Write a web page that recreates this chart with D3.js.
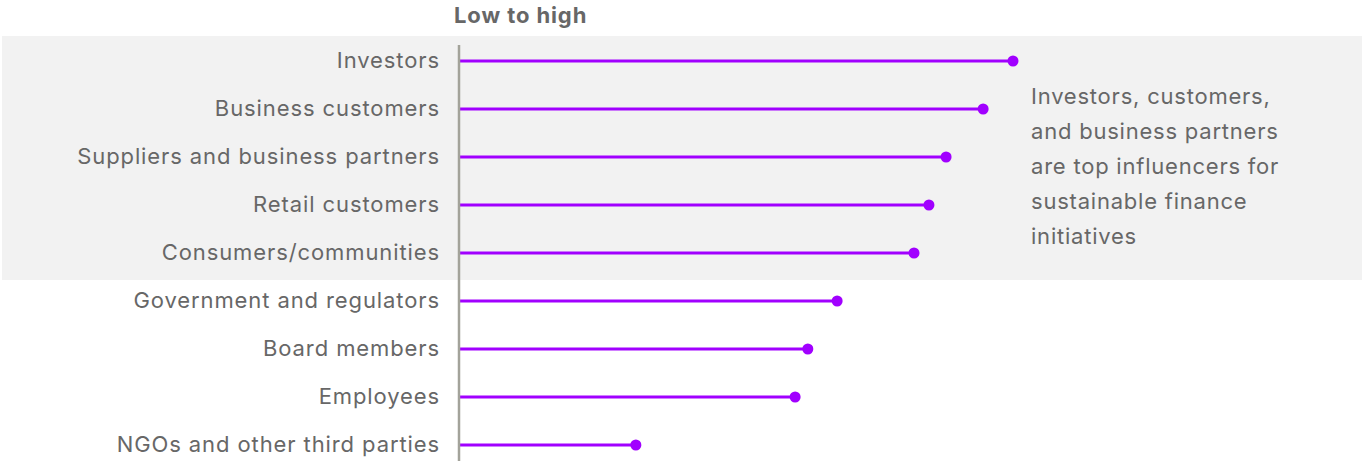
<!DOCTYPE html>
<html>
<head>
<meta charset="utf-8">
<script src="https://cdn.jsdelivr.net/npm/d3@7"></script>
<style>
  html, body { margin: 0; padding: 0; background: #ffffff; }
  svg { display: block; }
</style>
</head>
<body>
<svg id="chart" width="1362" height="461"></svg>
<script>
// Stakeholder groups, ordered from most to least influential
const categories = [
  "Investors",
  "Business customers",
  "Suppliers and business partners",
  "Retail customers",
  "Consumers/communities",
  "Government and regulators",
  "Board members",
  "Employees",
  "NGOs and other third parties"
];
// Relative influence score (0 = low, 100 = high)
const influence = [100, 94.6, 87.9, 84.8, 82.1, 68.2, 62.9, 60.6, 31.8];
// Top groups that sit inside the shaded band
const highlightCount = 5;
const axisTitle = "Low to high";
const noteLines = [
  "Investors, customers,",
  "and business partners",
  "are top influencers for",
  "sustainable finance",
  "initiatives"
];

const width = 1362, height = 461;
const font = "Inter, 'Open Sans', sans-serif";
const textGrey = "#676767";
const purple = "#a100ff";

const svg = d3.select("#chart");

const x = d3.scaleLinear().domain([0, 100]).range([460, 1013]);
const y = d3.scaleBand().domain(categories).range([37, 469]).paddingInner(0).paddingOuter(0);
const yc = d => y(d) + y.bandwidth() / 2;

// Shaded band behind the leading groups
const lastHi = categories[highlightCount - 1];
svg.append("rect")
  .attr("x", 2).attr("y", 36)
  .attr("width", width - 2)
  .attr("height", y(lastHi) + y.bandwidth() + 3 - 36)
  .attr("fill", "#f2f2f2");

// Axis title
svg.append("text")
  .attr("x", 454).attr("y", 23)
  .attr("font-family", font).attr("font-size", 22).attr("font-weight", 700)
  .attr("letter-spacing", "0.9px")
  .attr("fill", textGrey)
  .text(axisTitle);

// Category labels via a left axis
const yAxis = d3.axisLeft(y).tickSize(0).tickPadding(19);
const ag = svg.append("g").attr("transform", "translate(459,0)").call(yAxis);
ag.select(".domain").remove();
ag.selectAll("text")
  .attr("font-family", font).attr("font-size", 22)
  .attr("letter-spacing", "0.9px")
  .attr("fill", textGrey);

// Lollipop stems
svg.append("g").selectAll("line")
  .data(categories)
  .join("line")
  .attr("x1", x(0)).attr("x2", (d, i) => x(influence[i]))
  .attr("y1", yc).attr("y2", yc)
  .attr("stroke", purple).attr("stroke-width", 3);

// Lollipop heads
svg.append("g").selectAll("circle")
  .data(categories)
  .join("circle")
  .attr("cx", (d, i) => x(influence[i]))
  .attr("cy", yc)
  .attr("r", 5.5)
  .attr("fill", purple);

// Vertical baseline
svg.append("line")
  .attr("x1", 459).attr("x2", 459)
  .attr("y1", 45).attr("y2", height)
  .attr("stroke", "#a3a39a").attr("stroke-width", 2.5);

// Side note
svg.append("text")
  .attr("font-family", font).attr("font-size", 22)
  .attr("letter-spacing", "0.78px")
  .attr("fill", textGrey)
  .selectAll("tspan")
  .data(noteLines)
  .join("tspan")
  .attr("x", 1031)
  .attr("y", (d, i) => 104 + i * 35)
  .text(d => d);
</script>
</body>
</html>
